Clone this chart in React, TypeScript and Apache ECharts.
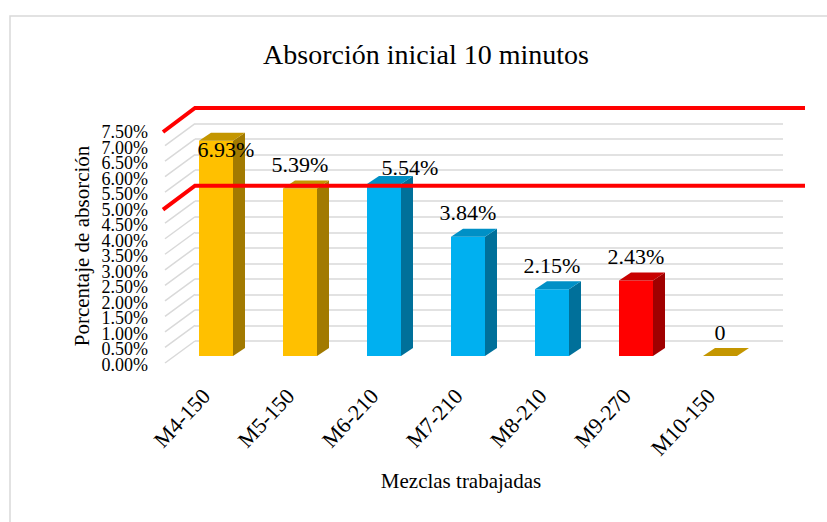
import React, { useEffect, useRef } from 'react';
import * as echarts from 'echarts';

const categories = ['M4-150', 'M5-150', 'M6-210', 'M7-210', 'M8-210', 'M9-270', 'M10-150'];
const values = [6.93, 5.39, 5.54, 3.84, 2.15, 2.43, 0];
const colorGroups = ['gold', 'gold', 'blue', 'blue', 'blue', 'red', 'gold'];
const yTicks = [0, 0.5, 1, 1.5, 2, 2.5, 3, 3.5, 4, 4.5, 5, 5.5, 6, 6.5, 7, 7.5];
const highlightLevels = [7.5, 5.0];

const title = 'Absorción inicial 10 minutos';
const yName = 'Porcentaje de absorción';
const xName = 'Mezclas trabajadas';

const FONT = "'Liberation Serif', 'Times New Roman', serif";

const palette: Record<string, { front: string; top: string; side: string }> = {
  gold: { front: '#FFC000', top: '#C49600', side: '#A27A00' },
  blue: { front: '#00B0F0', top: '#0090C6', side: '#00709A' },
  red: { front: '#FF0000', top: '#C80000', side: '#A00000' },
};

// label nudges (x, y) for labels Excel placed differently
const labelNudge: Record<number, [number, number]> = { 0: [10, 33], 2: [26, 8] };

export default function App() {
  const ref = useRef<HTMLDivElement>(null);
  useEffect(() => {
    const chart = echarts.init(ref.current!, null, { renderer: 'svg' });
    const DX = 12, DY = 8, W = 34, SHIFT = -21, DROP = 15;

    const option: any = {
      animation: false,
      backgroundColor: '#fff',
      grid: [
        { left: 195, right: 44, top: 108, bottom: 181 },
        { left: 164, right: 74, top: 132, bottom: 157 },
      ],
      xAxis: [
        { gridIndex: 0, type: 'category', data: categories, show: false },
        {
          gridIndex: 1, type: 'category', data: categories,
          axisLine: { show: false }, axisTick: { show: false },
          axisLabel: { rotate: 47, margin: 27, fontSize: 22, fontFamily: FONT, color: '#000', interval: 0 },
        },
      ],
      yAxis: [
        {
          gridIndex: 0, type: 'value', min: 0, max: 7.5, interval: 0.5,
          axisLabel: { show: false }, axisLine: { show: false }, axisTick: { show: false },
          splitLine: { lineStyle: { color: '#d9d9d9', width: 1.5 } },
        },
        {
          gridIndex: 1, type: 'value', min: 0, max: 7.5, interval: 0.5, show: false,
        },
      ],
      graphic: [
        { type: 'rect', shape: { x: 10, y: 16, width: 840, height: 540 }, style: { fill: 'none', stroke: '#d9d9d9', lineWidth: 1.5 }, silent: true },
        { type: 'text', x: 426, y: 54, style: { text: title, fontSize: 28, fontFamily: FONT, fill: '#000', align: 'center', verticalAlign: 'middle' } },
        { type: 'text', x: 82, y: 246, rotation: Math.PI / 2, style: { text: yName, fontSize: 21, fontFamily: FONT, fill: '#000', align: 'center', verticalAlign: 'middle' } },
        { type: 'text', x: 461, y: 481, style: { text: xName, fontSize: 21, fontFamily: FONT, fill: '#000', align: 'center', verticalAlign: 'middle' } },
      ],
      series: [
        {
          // left side-wall gridlines and the value-axis tick labels
          type: 'custom', xAxisIndex: 0, yAxisIndex: 0, silent: true, z: 1, clip: false,
          data: yTicks.map((v) => [0, v]),
          renderItem: (params: any, api: any) => {
            const v = api.value(1);
            const p = api.coord([0, v]);
            const x0 = params.coordSys.x;
            return {
              type: 'group',
              children: [
                {
                  type: 'line',
                  shape: { x1: x0 - 30, y1: p[1] + 22, x2: x0, y2: p[1] },
                  style: { stroke: '#d9d9d9', lineWidth: 1.5 },
                },
                {
                  type: 'text', x: x0 - 47, y: p[1] + 24,
                  style: {
                    text: v.toFixed(2) + '%', fontSize: 18, fontFamily: FONT, fill: '#000',
                    align: 'right', verticalAlign: 'middle',
                  },
                },
              ],
            };
          },
        },
        {
          type: 'custom', xAxisIndex: 0, yAxisIndex: 0, silent: true, z: 3, clip: false,
          data: values.map((v, i) => [i, v]),
          renderItem: (params: any, api: any) => {
            const i = api.value(0);
            const v = api.value(1);
            const p = api.coord([i, v]);
            const p0 = api.coord([i, 0]);
            const cx = p[0] + SHIFT;
            const top = p[1] + DROP;
            const bot = p0[1] + DROP;
            const c = palette[colorGroups[i]];
            const l = cx - W / 2, r = cx + W / 2;
            const children: any[] = [];
            if (bot - top > 0.5) {
              children.push({ type: 'rect', shape: { x: l, y: top, width: W, height: bot - top }, style: { fill: c.front } });
              children.push({ type: 'polygon', shape: { points: [[r, top], [r + DX, top - DY], [r + DX, bot - DY], [r, bot]] }, style: { fill: c.side } });
            }
            children.push({ type: 'polygon', shape: { points: [[l, top], [r, top], [r + DX, top - DY], [l + DX, top - DY]] }, style: { fill: c.top } });
            const nudge = labelNudge[i] || [0, 0];
            children.push({
              type: 'text',
              x: cx + nudge[0],
              y: top - DY - 16 + nudge[1],
              style: {
                text: v === 0 ? '0' : v.toFixed(2) + '%',
                fontSize: 22, fontFamily: FONT, fill: '#000', align: 'center', verticalAlign: 'middle',
              },
              z2: 10,
            });
            return { type: 'group', children };
          },
        },
        {
          type: 'custom', xAxisIndex: 0, yAxisIndex: 0, silent: true, z: 5, clip: false,
          data: highlightLevels.map((v) => [0, v]),
          renderItem: (params: any, api: any) => {
            const p = api.coord([0, api.value(1)]);
            const x0 = params.coordSys.x;
            const x1 = params.coordSys.x + params.coordSys.width + 22;
            return {
              type: 'polyline',
              shape: { points: [[x0 - 32, p[1] + 24], [x0, p[1]], [x1, p[1]]] },
              style: { stroke: '#FF0000', lineWidth: 4, fill: 'none' },
            };
          },
        },
      ],
    };
    chart.setOption(option);
    return () => chart.dispose();
  }, []);
  return <div ref={ref} style={{ position: 'fixed', left: 0, top: 0, width: 827, height: 522 }} />;
}
